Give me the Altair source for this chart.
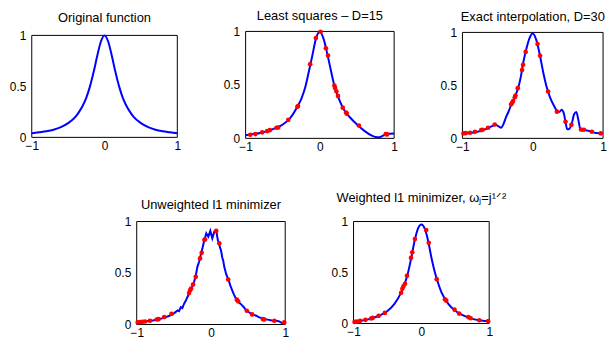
import altair as alt
import pandas as pd

# ---------------- data ----------------
# Panel 1: original function
orig_x = [-1.0, -0.9, -0.8, -0.7, -0.6, -0.5, -0.4, -0.35, -0.3, -0.25, -0.2, -0.15, -0.1, -0.05, 0.0,
          0.05, 0.1, 0.15, 0.2, 0.25, 0.3, 0.35, 0.4, 0.5, 0.6, 0.7, 0.8, 0.9, 1.0]
orig_y = [0.04, 0.05, 0.06, 0.075, 0.10, 0.14, 0.20, 0.25, 0.31, 0.39, 0.50, 0.64, 0.80, 0.94, 1.0,
          0.94, 0.80, 0.64, 0.50, 0.39, 0.31, 0.25, 0.20, 0.14, 0.10, 0.075, 0.06, 0.05, 0.04]

# Panel 2: least squares, D=15
ls_x = [-1.0, -0.9, -0.8, -0.7, -0.6, -0.5, -0.4, -0.3, -0.25, -0.2, -0.15, -0.1, -0.05, 0.0,
        0.05, 0.1, 0.15, 0.2, 0.25, 0.3, 0.35, 0.4, 0.5, 0.6, 0.7, 0.75, 0.8, 0.85, 0.9, 1.0]
ls_y = [0.03, 0.04, 0.05, 0.07, 0.095, 0.13, 0.19, 0.30, 0.37, 0.47, 0.62, 0.78, 0.94, 1.0,
        0.93, 0.79, 0.63, 0.48, 0.38, 0.30, 0.24, 0.20, 0.13, 0.07, 0.025, 0.012, 0.01, 0.025, 0.04, 0.045]
ls_dot_x = [-0.937, -0.869, -0.778, -0.71, -0.674, -0.584, -0.561, -0.425, -0.303, -0.294, -0.131,
            -0.054, 0.009, 0.081, 0.109, 0.195, 0.204, 0.222, 0.244, 0.308, 0.353, 0.362, 0.525, 0.887, 0.905]
ls_dot_y = [0.034, 0.040, 0.056, 0.068, 0.077, 0.099, 0.102, 0.173, 0.296, 0.302, 0.694,
            0.938, 0.997, 0.843, 0.775, 0.494, 0.472, 0.441, 0.395, 0.287, 0.241, 0.231, 0.120, 0.040, 0.037]

# Panel 3: exact interpolation, D=30
ex_x = [-1.0, -0.9, -0.8, -0.7, -0.63, -0.57, -0.52, -0.48, -0.45, -0.42, -0.38, -0.34, -0.3, -0.25,
        -0.21, -0.17, -0.14, -0.1, -0.05, 0.0, 0.05, 0.1, 0.15, 0.2, 0.25, 0.3, 0.35, 0.38, 0.41, 0.44,
        0.466, 0.49, 0.52, 0.55, 0.59, 0.62, 0.65, 0.68, 0.71, 0.73, 0.8, 0.85, 0.9, 1.0]
ex_y = [0.045, 0.05, 0.06, 0.08, 0.10, 0.118, 0.125, 0.11, 0.10, 0.13, 0.20, 0.26, 0.33, 0.40,
        0.47, 0.58, 0.70, 0.82, 0.94, 0.99, 0.93, 0.79, 0.62, 0.48, 0.38, 0.31, 0.255, 0.25, 0.27, 0.24,
        0.156, 0.085, 0.09, 0.128, 0.23, 0.25, 0.17, 0.08, 0.075, 0.08, 0.07, 0.06, 0.05, 0.045]
ex_dot_x = [-0.986, -0.953, -0.892, -0.822, -0.733, -0.714, -0.635, -0.541, -0.307, -0.293, -0.279,
            -0.255, -0.246, -0.213, -0.152, -0.138, -0.101, 0.068, 0.105, 0.218, 0.344, 0.466, 0.55,
            0.686, 0.728, 0.841, 0.967]
ex_dot_y = [0.047, 0.050, 0.053, 0.062, 0.078, 0.081, 0.100, 0.131, 0.321, 0.336, 0.352,
            0.389, 0.405, 0.474, 0.645, 0.695, 0.816, 0.891, 0.779, 0.442, 0.252, 0.156, 0.128,
            0.084, 0.081, 0.062, 0.047]

# Panel 4: unweighted l1 minimizer (jagged)
ul_x = [-1.0, -0.9, -0.786, -0.7, -0.607, -0.56, -0.518, -0.47, -0.451, -0.43, -0.406, -0.385, -0.362,
        -0.34, -0.317, -0.295, -0.272, -0.25, -0.228, -0.205, -0.183, -0.16, -0.138, -0.115, -0.094,
        -0.063, -0.036, -0.009, 0.018, 0.045, 0.071, 0.094, 0.11, 0.121, 0.135, 0.152, 0.165, 0.179,
        0.205, 0.241, 0.26, 0.286, 0.31, 0.330, 0.35, 0.375, 0.4, 0.42, 0.44, 0.464, 0.49, 0.518,
        0.55, 0.576, 0.61, 0.643, 0.69, 0.732, 0.78, 0.821, 0.87, 0.911, 0.955, 1.0]
ul_y = [0.025, 0.03, 0.039, 0.05, 0.072, 0.085, 0.098, 0.125, 0.137, 0.13, 0.169, 0.16, 0.202,
        0.23, 0.267, 0.30, 0.349, 0.37, 0.414, 0.47, 0.560, 0.61, 0.674, 0.74, 0.805,
        0.886, 0.853, 0.909, 0.837, 0.902, 0.909, 0.814, 0.79, 0.749, 0.72, 0.651, 0.62, 0.560,
        0.489, 0.423, 0.38, 0.332, 0.29, 0.261, 0.24, 0.215, 0.20, 0.186, 0.17, 0.147, 0.13, 0.117,
        0.10, 0.094, 0.085, 0.072, 0.06, 0.052, 0.045, 0.039, 0.036, 0.033, 0.016, 0.023]
ul_dot_x = [-0.987, -0.955, -0.924, -0.888, -0.821, -0.732, -0.705, -0.629, -0.531, -0.295, -0.281,
            -0.268, -0.241, -0.205, -0.147, -0.125, -0.089, -0.08, 0.071, 0.112, 0.232, 0.348, 0.366,
            0.482, 0.554, 0.701, 0.719, 0.853, 0.987]
ul_dot_y = [0.020, 0.023, 0.026, 0.029, 0.036, 0.049, 0.052, 0.072, 0.104, 0.306, 0.332,
            0.349, 0.388, 0.463, 0.642, 0.697, 0.821, 0.827, 0.909, 0.788, 0.436, 0.241, 0.225,
            0.134, 0.098, 0.052, 0.049, 0.036, 0.020]

# Panel 5: weighted l1 minimizer
wl_x = [-1.0, -0.9, -0.8, -0.7, -0.6, -0.5, -0.4, -0.3, -0.25, -0.2, -0.15, -0.1, -0.05, 0.0,
        0.05, 0.1, 0.15, 0.2, 0.25, 0.3, 0.4, 0.5, 0.6, 0.7, 0.8, 0.9, 1.0]
wl_y = [0.02, 0.027, 0.038, 0.058, 0.083, 0.122, 0.19, 0.30, 0.38, 0.49, 0.64, 0.81, 0.93, 0.97,
        0.93, 0.81, 0.64, 0.50, 0.39, 0.30, 0.19, 0.125, 0.085, 0.058, 0.038, 0.028, 0.022]
wl_dot_x = [-0.985, -0.951, -0.903, -0.825, -0.742, -0.718, -0.63, -0.538, -0.299, -0.28, -0.265,
            -0.241, -0.212, -0.153, -0.134, -0.095, 0.071, 0.109, 0.226, 0.348, 0.367, 0.489, 0.557,
            0.693, 0.727, 0.854, 0.985]
wl_dot_y = [0.016, 0.019, 0.026, 0.036, 0.049, 0.055, 0.075, 0.104, 0.302, 0.341, 0.364,
            0.390, 0.468, 0.643, 0.698, 0.828, 0.916, 0.792, 0.435, 0.237, 0.224, 0.136, 0.097,
            0.062, 0.052, 0.032, 0.023]

titles = ["Original function", "Least squares \u2013 D=15", "Exact interpolation, D=30",
          "Unweighted l1 minimizer", "Weighted l1 minimizer, \u03c9\u2c7c=j\u00b9\u141f\u00b2"]
x_ticks = [-1, 0, 1]
y_ticks = [0, 0.5, 1]
# axes box (MATLAB frame) in data coordinates
box_x, box_x2, box_y, box_y2 = [-1], [1], [0], [1]

FONT = "Liberation Sans"


def panel(cx, cy, dx, dy, title, w, h, yrange, interp, toff):
    xs = alt.Scale(domain=[-1, 1], nice=False)
    ys = alt.Scale(domain=[0, 1], nice=False, range=yrange)
    xenc = alt.X("x:Q", scale=xs,
                 axis=alt.Axis(values=x_ticks, format="~g", labelFlush=False), title=None)
    yenc = alt.Y("y:Q", scale=ys, axis=alt.Axis(values=y_ticks, format="~g"), title=None)
    frame = alt.Chart(pd.DataFrame({"x": box_x, "xe": box_x2, "y": box_y, "ye": box_y2})).mark_rect(
        filled=False, color="black", strokeWidth=1).encode(
        x=xenc, x2=alt.X2("xe"), y=yenc, y2=alt.Y2("ye"))
    line = alt.Chart(pd.DataFrame({"x": cx, "y": cy})).mark_line(
        color="#0000ff", strokeWidth=2, interpolate=interp).encode(x=xenc, y=yenc)
    layers = [frame, line]
    if dx:
        pts = alt.Chart(pd.DataFrame({"x": dx, "y": dy})).mark_circle(
            color="#ff0000", size=22, opacity=1).encode(x=xenc, y=yenc)
        layers.append(pts)
    return alt.layer(*layers).properties(
        width=w, height=h,
        title=alt.TitleParams(text=title, fontSize=13, font=FONT, fontWeight="normal",
                              color="black", anchor="middle", frame="group",
                              baseline="alphabetic", offset=toff))


def spacer(w, h):
    return alt.Chart(pd.DataFrame({"x": [0]})).mark_point(opacity=0).encode(
        x=alt.X("x:Q", axis=None), y=alt.Y("x:Q", axis=None)
    ).properties(width=w, height=h)


p1 = panel(orig_x, orig_y, None, None, titles[0], 147, 107, [107, 4], "monotone", -5.7)
p2 = panel(ls_x, ls_y, ls_dot_x, ls_dot_y, titles[1], 150, 108, [108, 0], "monotone", -7.7)
p3 = panel(ex_x, ex_y, ex_dot_x, ex_dot_y, titles[2], 142, 108, [108, 1], "monotone", -7.7)
p4 = panel(ul_x, ul_y, ul_dot_x, ul_dot_y, titles[3], 150, 104, [104, 0], "linear", -6.7)
p5 = panel(wl_x, wl_y, wl_dot_x, wl_dot_y, titles[4], 137, 103, [103, 0], "monotone", 0.9)

top = alt.hconcat(p1, p2, p3, spacing=69, bounds="flush")
bottom = alt.hconcat(spacer(37, 100), p4, p5, spacing=69, bounds="flush")

chart = alt.vconcat(top, bottom, spacing=192, bounds="flush").properties(
    padding={"left": 0, "top": 0, "right": 0, "bottom": 0}
).configure_view(
    stroke="transparent"
).configure_axis(
    grid=False, domain=False, ticks=False, labelFont=FONT, labelFontSize=12, labelColor="black"
).configure_axisX(
    labelPadding=3
).configure_axisY(
    labelPadding=6
)

chart.save("out.html", embed_options={"renderer": "svg", "actions": False})
